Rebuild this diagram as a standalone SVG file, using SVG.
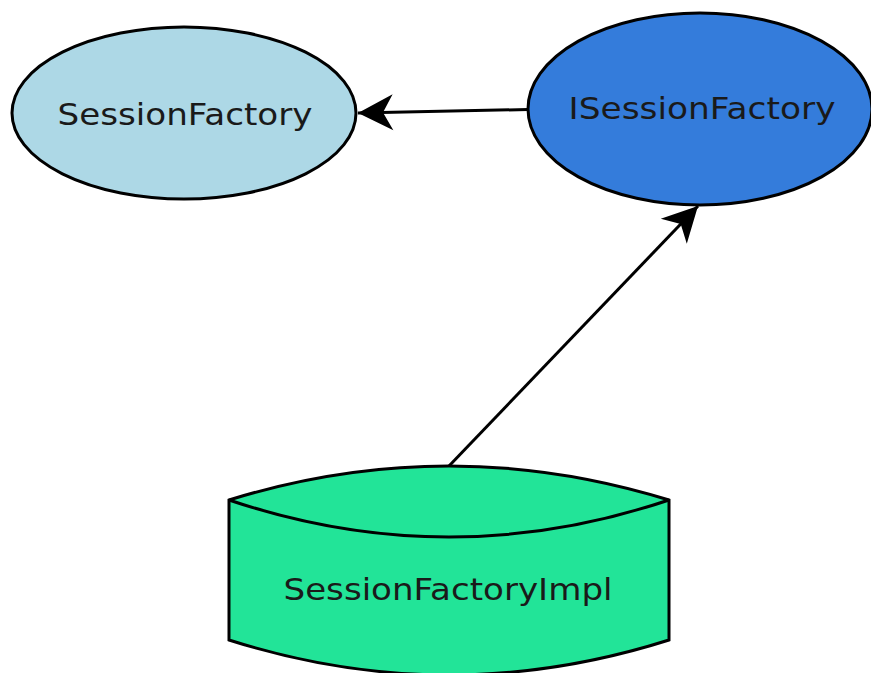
<svg xmlns="http://www.w3.org/2000/svg" width="871" height="673" viewBox="0 0 871 673">
<style>
.shape{stroke:#000;stroke-width:3}
.lbl{font-family:"DejaVu Sans",sans-serif;font-size:31px;fill:#1a1a1a;text-anchor:middle}
.edge{stroke:#000;stroke-width:3;fill:none;marker-end:url(#arr)}
</style>
<defs>
<marker id="arr" markerUnits="userSpaceOnUse" viewBox="-36 -19 37 38" refX="0" refY="0" markerWidth="37" markerHeight="38" orient="auto">
<path d="M0,0 L-35,-18 L-25,0 L-35,18 Z" fill="#000"/>
</marker>
</defs>
<rect width="871" height="673" fill="#fff"/>
<g id="connectors">
<path class="edge" d="M528,109.5 L358,113"/>
<path class="edge" d="M449,466 L698,206"/>
</g>
<g id="SessionFactory">
<ellipse class="shape" cx="184" cy="113" rx="172" ry="86" fill="#add8e6"/>
<text class="lbl" x="185" y="125" textLength="255" lengthAdjust="spacingAndGlyphs">SessionFactory</text>
</g>
<g id="ISessionFactory">
<ellipse class="shape" cx="700" cy="109" rx="172" ry="96" fill="#347cdb"/>
<text class="lbl" x="702" y="119" textLength="267" lengthAdjust="spacingAndGlyphs">ISessionFactory</text>
</g>
<g id="SessionFactoryImpl">
<path class="shape" d="M229,500 Q449,432 669,500 L669,640 Q449,710 229,640 Z" fill="#22e498"/>
<path class="shape" d="M229,500 Q449,574 669,500" fill="none"/>
<text class="lbl" x="448" y="600" textLength="329" lengthAdjust="spacingAndGlyphs">SessionFactoryImpl</text>
</g>
</svg>
